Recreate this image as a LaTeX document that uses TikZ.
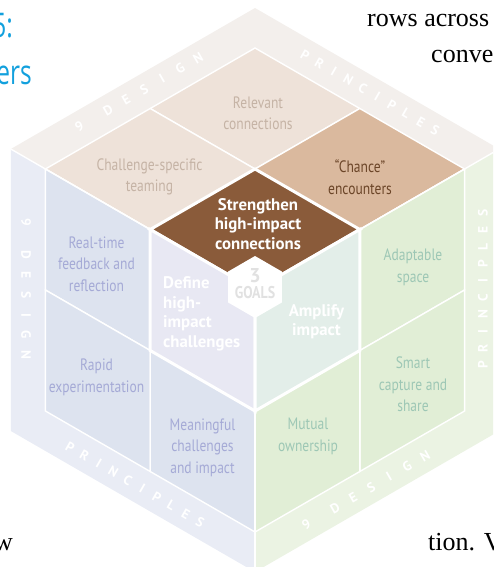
\documentclass[tikz,border=0pt]{standalone}
\usepackage{fontspec}
\setmainfont{Liberation Serif}
\newfontfamily\cond[FakeStretch=0.82]{PT Sans}
\newfontfamily\ptsans{PT Sans}
\newfontfamily\bluefont[FakeStretch=0.72]{Open Sans}
\usetikzlibrary{calc}
\definecolor{topband}{HTML}{F3EFEC}
\definecolor{topcell}{HTML}{EEE2D9}
\definecolor{chance}{HTML}{DAB99E}
\definecolor{strength}{HTML}{8A5B3A}
\definecolor{leftband}{HTML}{E9ECF5}
\definecolor{leftcell}{HTML}{DDE3EF}
\definecolor{definec}{HTML}{E8E8F3}
\definecolor{rightband}{HTML}{EBF3E3}
\definecolor{rightcell}{HTML}{E1EED6}
\definecolor{amplifyc}{HTML}{E3EEE9}
\definecolor{toptxt}{HTML}{C5B3A5}
\definecolor{chancetxt}{HTML}{6B4528}
\definecolor{lefttxt}{HTML}{A5AAD6}
\definecolor{righttxt}{HTML}{9DC7B5}
\definecolor{goalgray}{HTML}{E1E1E1}
\definecolor{titleblue}{HTML}{12A0DD}
\begin{document}
\begin{tikzpicture}[x=1pt,y=-1pt,
  sep/.style={draw=white,line width=1.4pt,line join=miter},
  goalsep/.style={draw=white,line width=3pt,line join=miter},
  celltext/.style={font=\cond\fontsize{16.5}{21.5}\selectfont,align=center,inner sep=0pt},
  goaltext/.style={font=\ptsans\bfseries\fontsize{16.8}{19.5}\selectfont,text=white,inner sep=0pt},
  bandl/.style={font=\ptsans\bfseries\fontsize{13.5}{13.5}\selectfont,text=white,inner sep=0pt,text height=9.4pt,text depth=0pt},
  pagetext/.style={font=\fontsize{26}{26}\selectfont,inner sep=0pt,text=black}]
\useasboundingbox (0,0) rectangle (493,567);
\clip (0,0) rectangle (493,567);
% cube corners
\coordinate (C) at (255,290);
\coordinate (T) at (255,8);
\coordinate (L1) at (10.8,149);
\coordinate (R1) at (499.2,149);
\coordinate (L2) at (10.8,431);
\coordinate (R2) at (499.2,431);
\coordinate (B) at (255,572);
% grid corners
\coordinate (GT) at (255,48);
\coordinate (GL) at (45.4,169);
\coordinate (GR) at (464.6,169);
\coordinate (GB) at (255,532);
\coordinate (GLB) at (45.4,411);
\coordinate (GRB) at (464.6,411);
\coordinate (TC) at (255,169);
\coordinate (LC) at (150.2,350.5);
\coordinate (RC) at (359.8,350.5);
\coordinate (m1) at (150.2,108.5);
\coordinate (m2) at (359.8,108.5);
\coordinate (m3) at (150.2,229.5);
\coordinate (m4) at (359.8,229.5);
\coordinate (m5) at (45.4,290);
\coordinate (m6) at (150.2,471.5);
\coordinate (m7) at (255,411);
\coordinate (m8) at (464.6,290);
\coordinate (m9) at (359.8,471.5);
% faces (bands)
\fill[topband] (T)--(R1)--(C)--(L1)--cycle;
\fill[leftband] (L1)--(C)--(B)--(L2)--cycle;
\fill[rightband] (R1)--(R2)--(B)--(C)--cycle;
% top cells
\filldraw[sep,fill=topcell] (GT)--(m2)--(TC)--(m1)--cycle;
\filldraw[sep,fill=topcell] (m1)--(TC)--(m3)--(GL)--cycle;
\filldraw[sep,fill=chance] (m2)--(GR)--(m4)--(TC)--cycle;
% left cells
\filldraw[sep,fill=leftcell] (GL)--(m3)--(LC)--(m5)--cycle;
\filldraw[sep,fill=leftcell] (m5)--(LC)--(m6)--(GLB)--cycle;
\filldraw[sep,fill=leftcell] (LC)--(m7)--(GB)--(m6)--cycle;
% right cells
\filldraw[sep,fill=rightcell] (m4)--(GR)--(m8)--(RC)--cycle;
\filldraw[sep,fill=rightcell] (RC)--(m8)--(GRB)--(m9)--cycle;
\filldraw[sep,fill=rightcell] (m7)--(RC)--(m9)--(GB)--cycle;
% face separators
\draw[sep] (L1)--(C)--(R1);
\draw[sep] (C)--(B);
% goal cells
\filldraw[goalsep,fill=strength] (TC)--(m4)--(C)--(m3)--cycle;
\filldraw[goalsep,fill=definec] (C)--(m7)--(LC)--(m3)--cycle;
\filldraw[goalsep,fill=amplifyc] (C)--(m4)--(RC)--(m7)--cycle;
% centre hexagon
\fill[white] (255,256)--(281.8,271.5)--(281.8,302.5)--(255,318)--(228.2,302.5)--(228.2,271.5)--cycle;
\node[font=\ptsans\bfseries\fontsize{20}{20}\selectfont,text=goalgray,inner sep=0pt] (three) at (255,276) {3};
\node[font=\cond\bfseries\fontsize{17}{17}\selectfont,text=goalgray,inner sep=0pt] (goals) at (255,293) {GOALS};
% cell texts
\node[celltext,text=toptxt] (relevant) at (258,113.5) {Relevant\\connections};
\node[celltext,text=toptxt] (teaming) at (149.5,177) {Challenge-specific\\teaming};
\node[celltext,text=chancetxt] (chance) at (360,177) {“Chance”\\encounters};
\node[goaltext,align=center] (strengthen) at (258,224) {Strengthen\\high-impact\\connections};
\node[celltext,text=lefttxt] (realtime) at (96.5,264) {Real-time\\feedback and\\reflection};
\node[celltext,text=lefttxt] (rapid) at (96.5,377.5) {Rapid\\experimentation};
\node[celltext,text=lefttxt] (meaningful) at (202.5,447.5) {Meaningful\\challenges\\and impact};
\node[goaltext,align=left,anchor=west] (define) at (163,314) {Define\\high-\\impact\\challenges};
\node[goaltext,align=center] (amplify) at (316.5,321.5) {Amplify\\impact};
\node[celltext,text=righttxt] (adaptable) at (413,267.5) {Adaptable\\space};
\node[celltext,text=righttxt] (smart) at (413,384.5) {Smart\\capture and\\share};
\node[celltext,text=righttxt] (mutual) at (308,436.5) {Mutual\\ownership};
% band lettering
\node[bandl,rotate=30] (tl9) at (79.4,126.5) {9};
\foreach \ch [count=\i from 0] in {D,E,S,I,G,N}
  \node[bandl,rotate=30] (tlD\i) at ($(108,110)+\i*(18,-10.4)$) {\ch};
\foreach \ch [count=\i from 0] in {P,R,I,N,C,I,P,L,E,S}
  \node[bandl,rotate=-30] (trP\i) at ($(305,55)+\i*(14.46,8.35)$) {\ch};
\node[bandl,rotate=-90] (lv9) at (26,222) {9};
\foreach \ch [count=\i from 0] in {D,E,S,I,G,N}
  \node[bandl,rotate=-90] (lvD\i) at ($(26,255)+\i*(0,20)$) {\ch};
\foreach \ch [count=\i from 0] in {P,R,I,N,C,I,P,L,E,S}
  \node[bandl,rotate=-30] (lbP\i) at ($(70,447)+\i*(14.46,8.35)$) {\ch};
\foreach \ch [count=\i from 0] in {P,R,I,N,C,I,P,L,E,S}
  \node[bandl,rotate=90] (rvP\i) at ($(483,365)+\i*(0,-16.9)$) {\ch};
\node[bandl,rotate=30] (rb9) at (306.4,524.5) {9};
\foreach \ch [count=\i from 0] in {D,E,S,I,G,N}
  \node[bandl,rotate=30] (rbD\i) at ($(335,508)+\i*(18,-10.4)$) {\ch};
% surrounding page text
\node[font=\bluefont\fontsize{34}{34}\selectfont,text=titleblue,anchor=base east,inner sep=0pt] (t1) at (13,38) {5:};
\node[font=\bluefont\fontsize{34}{34}\selectfont,text=titleblue,anchor=base east,inner sep=0pt] (t2) at (32,85) {ers};
\node[pagetext,anchor=base west] (t3) at (367,27) {rows across};
\node[pagetext,anchor=base west] (t4) at (431,63) {conve};
\node[pagetext,anchor=base east] (t5) at (13,550) {w};
\node[pagetext,anchor=base west] (t6) at (428,550) {tion. V};
\end{tikzpicture}
\end{document}
